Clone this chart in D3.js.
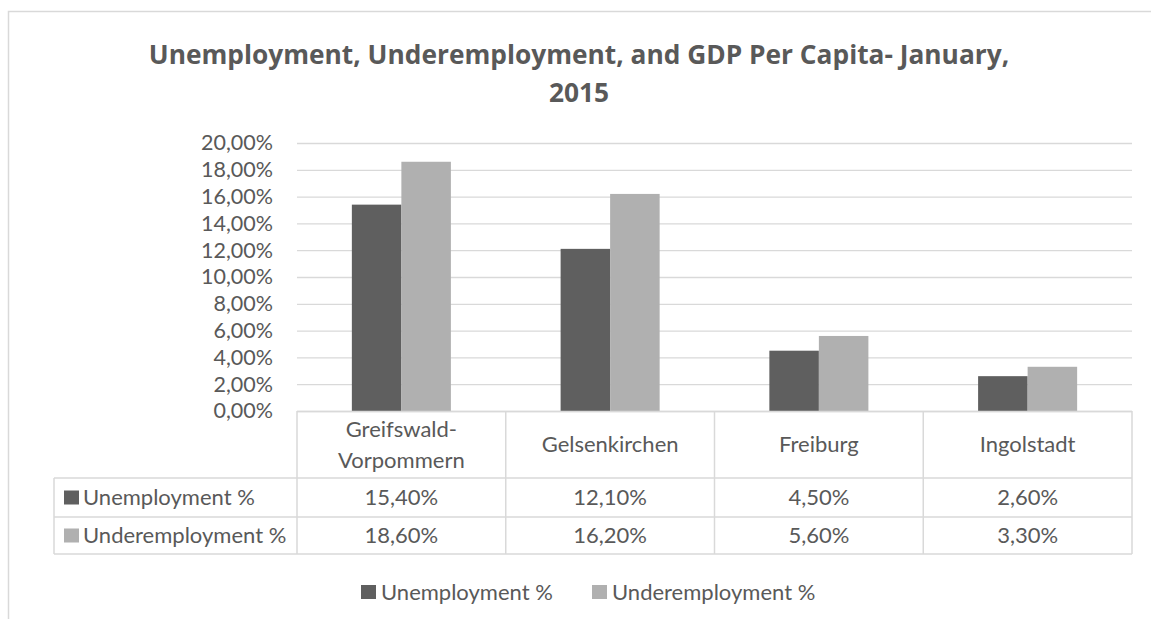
<!DOCTYPE html>
<html>
<head>
<meta charset="utf-8">
<script src="https://cdn.jsdelivr.net/npm/d3@7"></script>
<style>
  html, body { margin: 0; padding: 0; background: #fff; }
  svg { display: block; font-family: Lato, "Open Sans", sans-serif; }
</style>
</head>
<body>
<svg id="chart" width="1151" height="619"></svg>
<script>
// Data
const categories = ["Greifswald-Vorpommern", "Gelsenkirchen", "Freiburg", "Ingolstadt"];
const categoryLines = [["Greifswald-", "Vorpommern"], ["Gelsenkirchen"], ["Freiburg"], ["Ingolstadt"]];
const seriesNames = ["Unemployment %", "Underemployment %"];
const unemployment = [0.154, 0.121, 0.045, 0.026];
const underemployment = [0.186, 0.162, 0.056, 0.033];
const yTicks = [0, 0.02, 0.04, 0.06, 0.08, 0.10, 0.12, 0.14, 0.16, 0.18, 0.20];
const titleLines = ["Unemployment, Underemployment, and GDP Per Capita- January,", "2015"];

(function draw() {
  const seriesValues = [unemployment, underemployment];
  const colors = ["#5f5f5f", "#b0b0b0"];
  const textColor = "#595959";
  const gridColor = "#d9d9d9";
  const fontSize = 22;

  const locale = d3.formatLocale({ decimal: ",", thousands: ".", grouping: [3], currency: ["", "€"], percent: "%" });
  const pct = locale.format(".2%");

  const svg = d3.select("#chart");

  // Chart frame
  svg.append("rect")
    .attr("x", 8.5).attr("y", 11.5)
    .attr("width", 1160).attr("height", 640)
    .attr("fill", "none").attr("stroke", gridColor).attr("stroke-width", 1.5);

  // Title
  const title = svg.append("text")
    .attr("text-anchor", "middle")
    .attr("fill", textColor)
    .attr("font-family", "'Open Sans', Lato, sans-serif")
    .attr("font-weight", "bold")
    .attr("font-size", 26.3);
  titleLines.forEach((t, i) => {
    title.append("tspan").attr("x", 579).attr("y", 64 + i * 38).text(t);
  });

  // Plot geometry
  const plotLeft = 297, plotRight = 1132, plotTop = 143, plotBottom = 411;

  const y = d3.scaleLinear().domain([0, 0.2]).range([plotBottom, plotTop]);
  const x = d3.scaleBand().domain(categories).range([plotLeft, plotRight]).paddingInner(0).paddingOuter(0);
  const xs = d3.scaleBand().domain(seriesNames).range([0, x.bandwidth()]).paddingInner(0).paddingOuter(1.108);

  // Gridlines
  svg.append("g")
    .attr("transform", `translate(${plotLeft},0)`)
    .call(d3.axisLeft(y).tickValues(yTicks).tickSize(-(plotRight - plotLeft)).tickFormat(""))
    .call(g => g.select(".domain").remove())
    .call(g => g.selectAll(".tick line").attr("stroke", gridColor).attr("stroke-width", 1.3));

  // Y axis labels
  svg.append("g")
    .attr("transform", `translate(${plotLeft},0)`)
    .call(d3.axisLeft(y).tickValues(yTicks).tickSize(0).tickPadding(24).tickFormat(pct))
    .call(g => g.select(".domain").remove())
    .call(g => g.selectAll(".tick text")
      .attr("fill", textColor)
      .attr("font-size", 21.5)
      .attr("font-family", "Lato, 'Open Sans', sans-serif"));

  // Bars
  seriesNames.forEach((s, si) => {
    svg.append("g").selectAll("rect")
      .data(categories.map((c, i) => ({ c, v: seriesValues[si][i] })))
      .join("rect")
      .attr("x", d => x(d.c) + xs(s))
      .attr("width", xs.bandwidth())
      .attr("y", d => y(d.v))
      .attr("height", d => y(0) - y(d.v))
      .attr("fill", colors[si]);
  });

  // Data table
  const headerBottom = 478;
  const rowBounds = [478, 517, 554];
  const tableLeft = 54;
  const lineAttrs = sel => sel.attr("stroke", gridColor).attr("stroke-width", 1.5).attr("fill", "none");
  const tbl = svg.append("g");

  tbl.append("line").attr("x1", plotLeft).attr("x2", plotRight).attr("y1", plotBottom + 0.5).attr("y2", plotBottom + 0.5).call(lineAttrs);
  rowBounds.forEach(yy => {
    tbl.append("line").attr("x1", tableLeft).attr("x2", plotRight).attr("y1", yy).attr("y2", yy).call(lineAttrs);
  });
  tbl.append("line").attr("x1", tableLeft).attr("x2", tableLeft).attr("y1", rowBounds[0]).attr("y2", rowBounds[2]).call(lineAttrs);
  const colEdges = categories.map(c => x(c)).concat([plotRight]);
  colEdges.forEach(xx => {
    tbl.append("line").attr("x1", xx).attr("x2", xx).attr("y1", plotBottom).attr("y2", rowBounds[2]).call(lineAttrs);
  });

  // Category headers
  categories.forEach((c, i) => {
    const lines = categoryLines[i];
    const cy = (plotBottom + headerBottom) / 2;
    const lh = 31;
    const t = tbl.append("text")
      .attr("text-anchor", "middle")
      .attr("fill", textColor)
      .attr("font-size", fontSize);
    lines.forEach((ln, li) => {
      t.append("tspan")
        .attr("x", x(c) + x.bandwidth() / 2)
        .attr("y", cy + (li - (lines.length - 1) / 2) * lh)
        .attr("dy", "0.35em")
        .text(ln);
    });
  });

  // Value rows
  seriesNames.forEach((s, si) => {
    const cy = (rowBounds[si] + rowBounds[si + 1]) / 2;
    tbl.append("rect")
      .attr("x", 64).attr("y", cy - 7)
      .attr("width", 15).attr("height", 14)
      .attr("fill", colors[si]);
    tbl.append("text")
      .attr("x", 83).attr("y", cy).attr("dy", "0.35em")
      .attr("fill", textColor).attr("font-size", fontSize)
      .text(s);
    categories.forEach((c, i) => {
      tbl.append("text")
        .attr("x", x(c) + x.bandwidth() / 2).attr("y", cy).attr("dy", "0.35em")
        .attr("text-anchor", "middle")
        .attr("fill", textColor).attr("font-size", fontSize)
        .text(pct(seriesValues[si][i]));
    });
  });

  // Legend
  const legendY = 592;
  const legendX = [361, 592];
  seriesNames.forEach((s, si) => {
    const g = svg.append("g").attr("transform", `translate(${legendX[si]},${legendY})`);
    g.append("rect").attr("x", 0).attr("y", -7).attr("width", 15).attr("height", 14).attr("fill", colors[si]);
    g.append("text").attr("x", 20).attr("y", 0).attr("dy", "0.35em")
      .attr("fill", textColor).attr("font-size", fontSize).text(s);
  });
})();
</script>
</body>
</html>
